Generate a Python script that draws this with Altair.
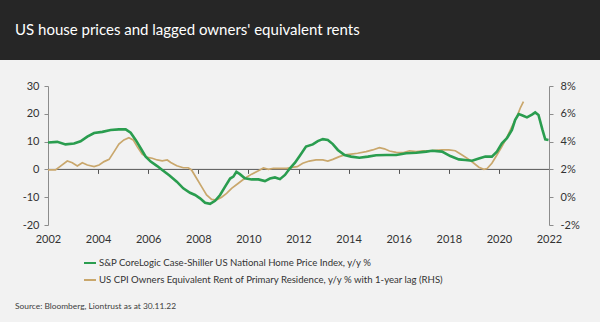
import altair as alt
import pandas as pd

TITLE = "US house prices and lagged owners' equivalent rents"
SOURCE = "Source: Bloomberg, Liontrust as at 30.11.22"
HPI_LABEL = "S&P CoreLogic Case-Shiller US National Home Price Index, y/y %"
OER_LABEL = "US CPI Owners Equivalent Rent of Primary Residence, y/y % with 1-year lag (RHS)"

# S&P CoreLogic Case-Shiller, y/y % (left axis)
hpi_years = [2002.0, 2002.37, 2002.7, 2003.04, 2003.3, 2003.57, 2003.84, 2004.17, 2004.5, 2004.83,
             2005.1, 2005.3, 2005.5, 2005.7, 2005.9, 2006.1, 2006.36, 2006.56, 2006.85, 2007.14,
             2007.4, 2007.67, 2007.87, 2008.07, 2008.27, 2008.47, 2008.67, 2008.87, 2009.07, 2009.27,
             2009.4, 2009.52, 2009.66, 2009.86, 2010.13, 2010.4, 2010.66, 2010.86, 2011.06, 2011.26,
             2011.46, 2011.66, 2011.86, 2012.06, 2012.3, 2012.57, 2012.77, 2012.97, 2013.17, 2013.37,
             2013.57, 2013.84, 2014.1, 2014.43, 2014.77, 2015.1, 2015.5, 2015.9, 2016.3, 2016.7,
             2017.1, 2017.33, 2017.73, 2018.06, 2018.4, 2018.66, 2018.93, 2019.2, 2019.46, 2019.72,
             2019.92, 2020.12, 2020.32, 2020.52, 2020.65, 2020.79, 2020.92, 2021.12, 2021.32, 2021.45,
             2021.58, 2021.74, 2021.85, 2021.98]
hpi_values = [9.7, 9.9, 9.0, 9.3, 10.1, 11.8, 13.1, 13.5, 14.2, 14.4,
              14.4, 13.2, 10.6, 7.6, 4.6, 2.8, 1.2, -0.2, -2.2, -4.4,
              -6.8, -8.4, -9.2, -10.4, -12.0, -12.4, -11.3, -9.2, -6.2, -3.3,
              -2.6, -0.9, -1.7, -3.2, -3.6, -3.6, -4.2, -3.3, -2.9, -3.5,
              -2.0, 0.4, 2.4, 5.0, 8.2, 9.0, 10.2, 10.9, 10.6, 9.1,
              7.0, 5.2, 4.6, 4.2, 4.6, 5.1, 5.2, 5.2, 5.8, 6.0,
              6.4, 6.7, 6.4, 4.8, 3.6, 3.4, 3.1, 3.9, 4.6, 4.6,
              6.4, 9.4, 11.2, 14.2, 17.8, 19.9, 19.5, 18.7, 19.7, 20.5,
              19.6, 14.2, 10.8, 10.6]

# US CPI OER, y/y % with 1-year lag (right axis)
oer_years = [2002.0, 2002.3, 2002.5, 2002.77, 2002.97, 2003.17, 2003.37, 2003.57, 2003.84, 2004.04,
             2004.24, 2004.44, 2004.64, 2004.83, 2005.03, 2005.23, 2005.4, 2005.56, 2005.76, 2005.96,
             2006.16, 2006.36, 2006.56, 2006.76, 2006.9, 2007.14, 2007.4, 2007.6, 2007.73, 2007.93,
             2008.13, 2008.33, 2008.53, 2008.73, 2008.93, 2009.13, 2009.33, 2009.6, 2009.86, 2010.13,
             2010.4, 2010.6, 2010.8, 2011.0, 2011.26, 2011.53, 2011.8, 2011.95, 2012.17, 2012.43,
             2012.7, 2012.97, 2013.17, 2013.37, 2013.63, 2013.84, 2014.1, 2014.36, 2014.7, 2014.96,
             2015.23, 2015.43, 2015.63, 2015.9, 2016.16, 2016.43, 2016.7, 2016.96, 2017.33, 2017.73,
             2018.0, 2018.26, 2018.53, 2018.8, 2019.0, 2019.2, 2019.4, 2019.53, 2019.72, 2019.92,
             2020.12, 2020.32, 2020.52, 2020.72, 2020.85, 2020.98]
oer_values = [1.96, 1.96, 2.24, 2.6, 2.48, 2.24, 2.48, 2.32, 2.2, 2.32,
              2.56, 2.72, 3.28, 3.82, 4.12, 4.28, 4.12, 3.64, 3.1, 2.86,
              2.8, 2.68, 2.62, 2.68, 2.5, 2.26, 2.12, 2.12, 1.96, 1.36,
              0.76, 0.16, -0.16, -0.2, 0.0, 0.28, 0.64, 1.0, 1.36, 1.66,
              1.9, 2.1, 2.0, 2.08, 2.08, 2.08, 2.16, 2.2, 2.44, 2.6,
              2.68, 2.68, 2.6, 2.72, 2.92, 3.04, 3.1, 3.16, 3.28, 3.4,
              3.56, 3.48, 3.32, 3.22, 3.2, 3.34, 3.28, 3.34, 3.36, 3.4,
              3.4, 3.34, 3.04, 2.72, 2.44, 2.16, 2.0, 2.06, 2.44, 3.04,
              3.64, 4.3, 5.08, 5.8, 6.4, 6.88]

x_ticks = list(range(2002, 2023, 2))
left_ticks = [-20, -10, 0, 10, 20, 30]
right_ticks = [-2, 0, 2, 4, 6, 8]

FONT = "Lato"
GREEN = "#2a9d4f"
TAN = "#c9a76c"
LABEL_COLOR = "#333333"
AXIS_GRAY = "#8c8c8c"
ZERO_GRAY = "#555555"

hpi = pd.DataFrame({"year": hpi_years, "value": hpi_values, "series": HPI_LABEL})
oer = pd.DataFrame({"year": oer_years, "value": oer_values, "series": OER_LABEL})

W, H = 501, 139
x_scale = alt.Scale(domain=[2002, 2022], nice=False, zero=False)
color_scale = alt.Scale(domain=[HPI_LABEL, OER_LABEL], range=[GREEN, TAN])
legend = alt.Legend(orient="none", legendX=35, legendY=170, title=None,
                    symbolType="stroke", symbolSize=144, symbolStrokeWidth=2,
                    labelFontSize=9.6, labelFont=FONT, labelColor=LABEL_COLOR,
                    rowPadding=5, padding=0, labelLimit=0, labelOffset=2,
                    direction="vertical")

hpi_line = alt.Chart(hpi).mark_line(strokeWidth=2.6).encode(
    x=alt.X("year:Q", scale=x_scale,
            axis=alt.Axis(orient="bottom", values=x_ticks, format="d", title=None, domain=False,
                          ticks=False, grid=False, labelPadding=8, labelFontSize=11,
                          labelFlush=False, labelFont=FONT, labelColor=LABEL_COLOR)),
    y=alt.Y("value:Q", scale=alt.Scale(domain=[-20, 30], nice=False, zero=False),
            axis=alt.Axis(orient="left", values=left_ticks, labelExpr="datum.value", title=None,
                          grid=False, tickSize=4, labelPadding=5, domainColor=AXIS_GRAY,
                          tickColor=AXIS_GRAY, labelFontSize=11, labelFont=FONT,
                          labelColor=LABEL_COLOR)),
    color=alt.Color("series:N", scale=color_scale, legend=legend),
)

oer_line = alt.Chart(oer).mark_line(strokeWidth=1.7).encode(
    x=alt.X("year:Q", scale=x_scale, axis=None),
    y=alt.Y("value:Q", scale=alt.Scale(domain=[-2, 8], nice=False, zero=False),
            axis=alt.Axis(orient="right", values=right_ticks, labelExpr="datum.value + '%'",
                          title=None, grid=False, tickSize=4, labelPadding=7,
                          domainColor=AXIS_GRAY, tickColor=AXIS_GRAY, labelFontSize=11,
                          labelFont=FONT, labelColor=LABEL_COLOR)),
    color=alt.Color("series:N", scale=color_scale, legend=legend),
)

zero_rule = alt.Chart(alt.Data(values=[{}])).mark_rule(color=ZERO_GRAY, strokeWidth=1).encode(
    x=alt.X(datum=2002, type="quantitative", scale=x_scale,
            axis=alt.Axis(orient="bottom", offset=-55.6, values=x_ticks, labels=False,
                          domain=False, ticks=True, tickSize=4, tickColor=ZERO_GRAY,
                          grid=False, title=None)),
    x2=alt.X2(datum=2022),
    y=alt.Y(datum=0, type="quantitative",
            scale=alt.Scale(domain=[-20, 30], nice=False, zero=False), axis=None),
)

header = alt.Chart(alt.Data(values=[{}])).mark_rect(color="#262626", clip=False).encode(
    x=alt.value(-48), x2=alt.value(552), y=alt.value(-86), y2=alt.value(-26)
)
title = alt.Chart(alt.Data(values=[{}])).mark_text(
    text=TITLE, align="left", baseline="alphabetic", font=FONT, fontSize=15, color="white"
).encode(x=alt.value(-33), y=alt.value(-51))
source = alt.Chart(alt.Data(values=[{}])).mark_text(
    text=SOURCE, align="left", baseline="middle", font=FONT, fontSize=8.4, color="#404040"
).encode(x=alt.value(-33), y=alt.value(220))

chart = alt.layer(header, title, source, zero_rule, oer_line, hpi_line).resolve_scale(
    y="independent"
).resolve_axis(x="independent", y="independent").properties(
    width=W, height=H,
    autosize=alt.AutoSizeParams(type="none"),
    padding={"left": 48, "top": 86, "right": 51, "bottom": 97},
    background="#f2f2f2",
).configure_view(stroke=None)

chart.save("out.html", embed_options={"renderer": "svg", "actions": False})
